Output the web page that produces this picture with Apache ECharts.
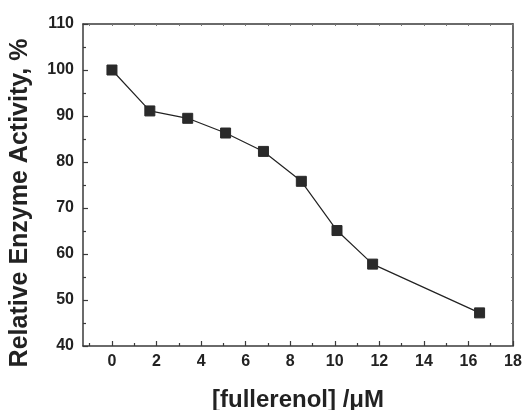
<!DOCTYPE html>
<html>
<head>
<meta charset="utf-8">
<script src="https://cdn.jsdelivr.net/npm/echarts@6/dist/echarts.min.js"></script>
<style>html,body{margin:0;padding:0;background:#fff}#c{width:525px;height:410px}</style>
</head>
<body>
<div id="c"></div>
<script>
var concentrations = [0, 1.7, 3.4, 5.1, 6.8, 8.5, 10.1, 11.7, 16.5];
var activity = [100, 91.1, 89.5, 86.3, 82.3, 75.8, 65.1, 57.8, 47.2];
var xMajorTicks = [0, 2, 4, 6, 8, 10, 12, 14, 16, 18];
var xMinorTicks = [-1, 1, 3, 5, 7, 9, 11, 13, 15, 17];
var xAllTicks = [-1, 0, 1, 2, 3, 4, 5, 6, 7, 8, 9, 10, 11, 12, 13, 14, 15, 16, 17, 18];
var yTicks = [40, 50, 60, 70, 80, 90, 100, 110];

var xTitle = '[fullerenol] /\u03bcM';
var yTitle = 'Relative Enzyme Activity, %';

var FONT = '"Liberation Sans", Arial, Helvetica, sans-serif';
var TXT = '#222';
var AX = '#3a3a3a';
var xMin = -1.3, xMax = 18;

var chart = echarts.init(document.getElementById('c'), null, {renderer: 'canvas'});
chart.setOption({
  animation: false,
  backgroundColor: '#fff',
  grid: {left: 83, right: 12, top: 24, bottom: 64, containLabel: false, outerBoundsMode: 'none'},
  xAxis: [
    {
      type: 'value', position: 'bottom', min: xMin, max: xMax,
      name: xTitle, nameLocation: 'middle', nameGap: 42,
      nameTextStyle: {fontFamily: FONT, fontWeight: 'bold', fontSize: 24, color: TXT},
      axisLine: {show: true, onZero: false, lineStyle: {color: AX, width: 1.5}},
      axisTick: {show: true, inside: true, length: 5, customValues: xMajorTicks, lineStyle: {color: AX, width: 1.2}},
      axisLabel: {show: true, customValues: xMajorTicks, margin: 8, fontFamily: FONT, fontWeight: 'bold', fontSize: 16, color: TXT},
      splitLine: {show: false}
    },
    {
      type: 'value', position: 'bottom', min: xMin, max: xMax,
      axisLine: {show: false, onZero: false},
      axisTick: {show: true, inside: true, length: 3, customValues: xMinorTicks, lineStyle: {color: AX, width: 1.2}},
      axisLabel: {show: false},
      splitLine: {show: false}
    },
    {
      type: 'value', position: 'top', min: xMin, max: xMax,
      axisLine: {show: true, onZero: false, lineStyle: {color: AX, width: 1.5}},
      axisTick: {show: true, inside: true, length: 2, customValues: xAllTicks, lineStyle: {color: '#777', width: 1}},
      axisLabel: {show: false},
      splitLine: {show: false}
    }
  ],
  yAxis: [
    {
      type: 'value', position: 'left', min: yTicks[0], max: yTicks[yTicks.length - 1], interval: 10,
      name: yTitle, nameLocation: 'middle', nameGap: 50,
      nameTextStyle: {fontFamily: FONT, fontWeight: 'bold', fontSize: 25, color: TXT, padding: [0, 36, 0, 0]},
      axisLine: {show: true, onZero: false, lineStyle: {color: AX, width: 1.5}},
      axisTick: {show: true, inside: true, length: 5, lineStyle: {color: AX, width: 1.2}},
      minorTick: {show: true, splitNumber: 2, length: 3, lineStyle: {color: AX, width: 1.2}},
      axisLabel: {show: true, margin: 9, fontFamily: FONT, fontWeight: 'bold', fontSize: 16, color: TXT},
      splitLine: {show: false}
    },
    {
      type: 'value', position: 'right', min: yTicks[0], max: yTicks[yTicks.length - 1], interval: 5,
      axisLine: {show: true, onZero: false, lineStyle: {color: AX, width: 1.5}},
      axisTick: {show: true, inside: true, length: 2, lineStyle: {color: '#777', width: 1}},
      axisLabel: {show: false},
      splitLine: {show: false}
    }
  ],
  series: [{
    type: 'line',
    xAxisIndex: 0, yAxisIndex: 0,
    data: concentrations.map(function (x, i) { return [x, activity[i]]; }),
    symbol: 'rect', symbolSize: 10,
    itemStyle: {color: '#2a2a2a', borderColor: '#2a2a2a'},
    lineStyle: {color: '#222', width: 1.2},
    z: 3
  }]
});
</script>
</body>
</html>
